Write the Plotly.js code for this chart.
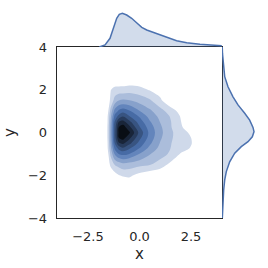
<!DOCTYPE html>
<html><head><meta charset="utf-8">
<script src="https://cdn.plot.ly/plotly-3.0.1.min.js"></script>
<style>html,body{margin:0;padding:0;background:#fff}#chart{width:268px;height:268px}</style>
</head><body><div id="chart"></div>
<script>
// joint density grid (level units)
const gridX = [-2, -1.6, -1.4, -1.2, -1, -0.8, -0.5, 0, 0.5, 1, 1.5, 2, 2.5, 3];
const gridY = [-2.5, -2, -1.5, -1, -0.75, -0.5, -0.25, 0, 0.25, 0.5, 0.75, 1, 1.5, 2, 2.5];
const gridZ = [
  [0, 0, 0, 0, 0, 0, 0, 0, 0, 0, 0, 0, 0, 0],
  [0, 0, 0.15, 0.54, 0.97, 1.14, 1.25, 0.63, 0.27, 0.2, 0, 0, 0, 0],
  [0, 0, 1.24, 2.07, 2.38, 2.69, 2.55, 2.32, 2.09, 1.53, 0.75, 0, 0, 0],
  [0, 0, 2.21, 4.12, 5.06, 5.29, 5.0, 3.99, 3.07, 2.47, 1.82, 0.9, 0.2, 0],
  [0, 0.3, 2.69, 5.19, 6.27, 6.76, 6.1, 4.95, 3.67, 2.71, 2.0, 1.46, 0.9, 0],
  [0, 0.3, 3.0, 6.0, 7.88, 8.2, 7.33, 5.63, 4.2, 2.95, 2.05, 1.56, 1.08, 0],
  [0, 0.4, 3.17, 6.43, 9.0, 9.43, 8.3, 6.28, 4.58, 3.17, 2.14, 1.54, 1.0, 0],
  [0, 0.4, 3.2, 6.5, 9.25, 10.5, 9.2, 6.7, 4.7, 3.3, 2.2, 1.45, 0.8, 0],
  [0, 0.4, 3.2, 6.4, 9.0, 9.5, 8.3, 6.1, 4.5, 3.2, 2.1, 1.2, 0.15, 0],
  [0, 0.3, 3.05, 6.1, 8.0, 8.35, 7.3, 5.5, 4.1, 2.97, 2.07, 1.04, 0, 0],
  [0, 0.3, 2.78, 5.35, 6.4, 7.0, 6.1, 4.9, 3.65, 2.75, 1.94, 0.93, 0, 0],
  [0, 0, 2.35, 4.4, 5.24, 5.63, 5.15, 4.04, 3.2, 2.4, 1.55, 0.63, 0, 0],
  [0, 0, 1.23, 2.38, 3.02, 3.14, 3.03, 2.6, 2.14, 1.22, 0.1, 0, 0, 0],
  [0, 0, 0.95, 1.38, 1.4, 1.4, 1.55, 1.4, 0.9, 0.5, 0, 0, 0, 0],
  [0, 0, 0, 0, 0.1, 0.15, 0.2, 0.1, 0, 0, 0, 0, 0, 0]
];
// top marginal KDE of x
const topX = [-1.95, -1.915, -1.67, -1.43, -1.27, -1.105, -0.98, -0.83, -0.62, -0.38, -0.14, 0.11, 0.35, 0.67, 0.99, 1.32, 1.80, 2.29, 2.93, 3.99];
const topD = [0, 0.004, 0.027, 0.116, 0.25, 0.383, 0.437, 0.45, 0.427, 0.383, 0.324, 0.263, 0.227, 0.196, 0.16, 0.124, 0.084, 0.057, 0.036, 0.017];
// right marginal KDE of y
const rightY = [-4, -3.3, -2.69, -2.22, -1.83, -1.37, -0.97, -0.66, -0.43, -0.2, 0.04, 0.24, 0.58, 0.9, 1.29, 1.67, 2.14, 2.61, 3.24, 3.7, 4];
const rightD = [0.004, 0.01, 0.021, 0.034, 0.054, 0.096, 0.159, 0.241, 0.325, 0.379, 0.40, 0.3875, 0.346, 0.284, 0.2, 0.1375, 0.075, 0.034, 0.0125, 0.006, 0.003];
const xTicks = [-2.5, 0, 2.5];
const yTicks = [-4, -2, 0, 2, 4];

function hls(h, l, s) {
  function f(p, q, t) { if (t < 0) t += 1; if (t > 1) t -= 1;
    if (t < 1/6) return p + (q - p) * 6 * t; if (t < 1/2) return q;
    if (t < 2/3) return p + (q - p) * (2/3 - t) * 6; return p; }
  const q = l < 0.5 ? l * (1 + s) : l + s - l * s, p = 2 * l - q;
  const c = [f(p, q, h + 1/3), f(p, q, h), f(p, q, h - 1/3)].map(v => Math.round(Math.max(0, Math.min(1, v)) * 255));
  return 'rgb(' + c.join(',') + ')';
}
const lights = [1, 0.865, 0.764, 0.664, 0.563, 0.463, 0.362, 0.261, 0.161, 0.06];
const cscale = lights.map((l, i) => [i / (lights.length - 1), hls(0.603, l, 0.398)]);

const W = 268;
const xd = [57 / W, 222 / W], yd = [1 - 218 / W, 1 - 47 / W];
const tickFont = {family: 'DejaVu Sans', size: 13, color: '#262626'};
const titleFont = {family: 'DejaVu Sans', size: 15, color: '#262626'};
const traces = [
  {type: 'contour', x: gridX, y: gridY, z: gridZ, xaxis: 'x', yaxis: 'y',
   contours: {start: 1, end: 9, size: 1, coloring: 'fill', showlines: false},
   line: {width: 0, smoothing: 1}, colorscale: cscale, showscale: false, hoverinfo: 'skip'},
  {type: 'scatter', mode: 'lines', x: topX, y: topD, xaxis: 'x2', yaxis: 'y2', fill: 'tozeroy',
   fillcolor: 'rgba(76,114,176,0.25)', line: {color: '#4c72b0', width: 1.5}},
  {type: 'scatter', mode: 'lines', x: rightD, y: rightY, xaxis: 'x3', yaxis: 'y3', fill: 'tozerox',
   fillcolor: 'rgba(76,114,176,0.25)', line: {color: '#4c72b0', width: 1.5}}
];
const layout = {
  width: 268, height: 268, margin: {l: 0, r: 0, t: 0, b: 0},
  paper_bgcolor: '#fff', plot_bgcolor: 'rgba(0,0,0,0)', showlegend: false,
  font: {family: 'DejaVu Sans', color: '#262626'},
  xaxis: {domain: xd, anchor: 'y', range: [-4, 4], tickvals: xTicks, tickformat: '.1f',
    showgrid: false, zeroline: false, showline: true, mirror: true, linecolor: '#262626', linewidth: 1.3,
    ticks: '', tickfont: tickFont, ticklabelstandoff: 6,
    title: {text: 'x', font: titleFont, standoff: 5}},
  yaxis: {domain: yd, anchor: 'x', range: [-4, 4], tickvals: yTicks,
    showgrid: false, zeroline: false, showline: true, mirror: true, linecolor: '#262626', linewidth: 1.3,
    ticks: '', tickfont: tickFont, ticklabelstandoff: 6,
    title: {text: 'y', font: titleFont, standoff: 8}},
  xaxis2: {domain: xd, anchor: 'y2', range: [-4, 4], visible: false},
  yaxis2: {domain: [1 - 47 / W, 1 - 11.6 / W], anchor: 'x2', range: [0, 0.4725], visible: false},
  xaxis3: {domain: [222 / W, 255.6 / W], anchor: 'y3', range: [0, 0.42], visible: false},
  yaxis3: {domain: yd, anchor: 'x3', range: [-4, 4], visible: false}
};
Plotly.newPlot('chart', traces, layout, {staticPlot: true, displayModeBar: false});
</script></body></html>
